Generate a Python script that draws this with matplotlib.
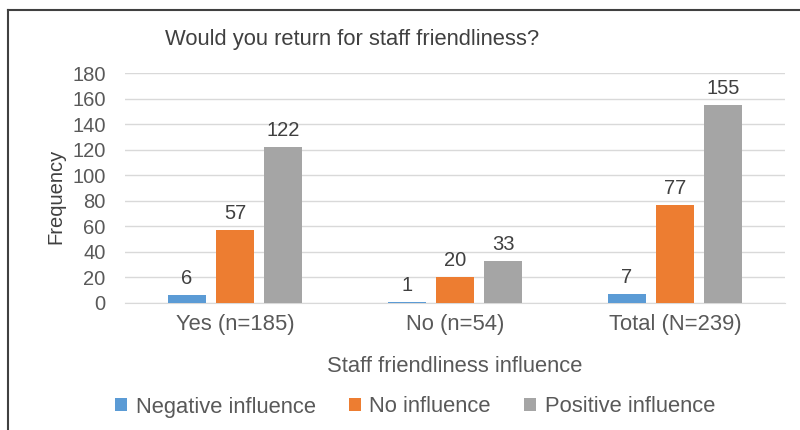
import matplotlib.pyplot as plt
import numpy as np
from matplotlib.lines import Line2D
from matplotlib.patches import Patch

plt.rcParams["font.family"] = ["Liberation Sans", "DejaVu Sans"]

categories = ["Yes (n=185)", "No (n=54)", "Total (N=239)"]
series_names = ["Negative influence", "No influence", "Positive influence"]
negative = [6, 1, 7]
no_influence = [57, 20, 77]
positive = [122, 33, 155]
y_ticks = [0, 20, 40, 60, 80, 100, 120, 140, 160, 180]

colors = ["#5B9BD5", "#ED7D31", "#A5A5A5"]
text_col = "#595959"
fs = 14.5
fs_big = 15.8

W, H = 800, 430
fig = plt.figure(figsize=(8, 4.3), dpi=100, facecolor="white")
ax = fig.add_axes([125 / W, 1 - 303 / H, 660 / W, 230 / H])

x = np.arange(len(categories))
bw = 0.173
step = 0.218
for i, (vals, name) in enumerate(zip([negative, no_influence, positive], series_names)):
    pos = x + (i - 1) * step
    bars = ax.bar(pos, vals, width=bw, color=colors[i], label=name, zorder=3)
    for b, v in zip(bars, vals):
        ax.annotate(str(v), (b.get_x() + b.get_width() / 2, v), xytext=(0, 5),
                    textcoords="offset points", ha="center", va="bottom",
                    fontsize=fs, color="#404040")

ax.set_xlim(-0.5, 2.5)
ax.set_ylim(0, 180)
ax.set_yticks(y_ticks)
ax.set_xticks(x)
ax.set_xticklabels(categories)
ax.tick_params(axis="both", length=0, labelsize=fs, labelcolor=text_col)
ax.tick_params(axis="x", labelsize=fs_big, pad=8)
ax.tick_params(axis="y", pad=14)
ax.grid(axis="y", color="#D9D9D9", linewidth=1, zorder=0)
for s in ["top", "right", "left"]:
    ax.spines[s].set_visible(False)
ax.spines["bottom"].set_color("#D9D9D9")

fig.text(56 / W, 1 - 196 / H, "Frequency", rotation=90, ha="center", va="center",
         fontsize=fs, color="#404040")
fig.text(455 / W, 1 - 367 / H, "Staff friendliness influence", ha="center", va="center",
         fontsize=fs_big, color=text_col)
fig.text(165 / W, 1 - 40 / H, "Would you return for staff friendliness?", ha="left", va="center",
         fontsize=15.8, color="#404040")

handles = [Patch(facecolor=c, edgecolor="none") for c in colors]
fig.legend(handles, series_names, loc="center", bbox_to_anchor=(415 / W, 1 - 407 / H),
           ncol=3, frameon=False, fontsize=fs_big, labelcolor=text_col,
           handlelength=0.55, handleheight=0.55, handletextpad=0.4, columnspacing=1.5)

# frame lines (top and left only visible in the crop)
fig.add_artist(Line2D([8 / W, 8 / W], [0, 1 - 10 / H], transform=fig.transFigure,
                      color="#404040", linewidth=1.5))
fig.add_artist(Line2D([8 / W, 1], [1 - 10 / H, 1 - 10 / H], transform=fig.transFigure,
                      color="#404040", linewidth=1.5))

fig.savefig("out.png", dpi=100)
